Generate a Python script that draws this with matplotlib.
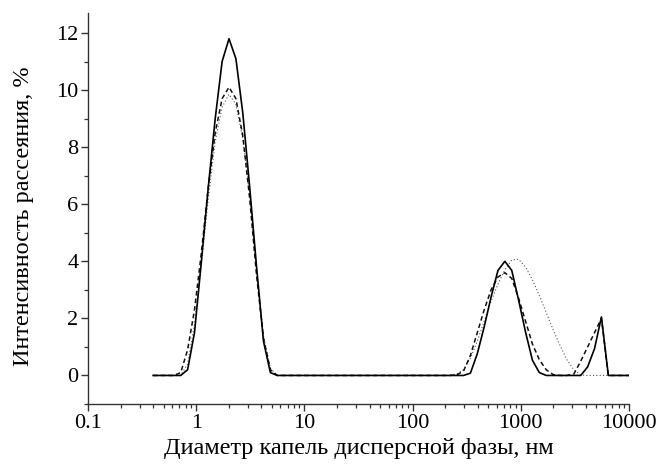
import matplotlib
matplotlib.use("Agg")
import matplotlib.pyplot as plt
import matplotlib.ticker as mticker

plt.rcParams["font.family"] = ["Liberation Serif", "DejaVu Serif"]

# Diameter bins, nm
diam = [0.4, 0.4632, 0.5365, 0.6213, 0.7195, 0.8332, 0.9649, 1.117, 1.294, 1.499,
        1.736, 2.010, 2.328, 2.696, 3.122, 3.615, 4.187, 4.849, 5.615, 6.503,
        7.531, 8.721, 10.10, 11.70, 13.54, 15.69, 18.17, 21.04, 24.36, 28.21,
        32.67, 37.84, 43.82, 50.75, 58.77, 68.06, 78.82, 91.28, 105.7, 122.4,
        141.8, 164.2, 190.1, 220.2, 255.0, 295.3, 342.0, 396.1, 458.7, 531.2,
        615.1, 712.4, 825.0, 955.4, 1106, 1281, 1484, 1718, 1990, 2305,
        2669, 3091, 3580, 4145, 4801, 5560, 6439, 7456, 8635, 10000]

# Scattering intensity, %
solid = [0, 0, 0, 0, 0, 0.2, 1.5, 4.0, 6.6, 9.0,
         11.0, 11.8, 11.1, 9.2, 6.6, 3.8, 1.2, 0.1, 0, 0,
         0, 0, 0, 0, 0, 0, 0, 0, 0, 0,
         0, 0, 0, 0, 0, 0, 0, 0, 0, 0,
         0, 0, 0, 0, 0, 0, 0.08, 0.76, 1.7, 2.75,
         3.68, 4.0, 3.68, 2.63, 1.52, 0.53, 0.1, 0, 0, 0,
         0, 0, 0, 0.3, 0.94, 2.05, 0, 0, 0, 0]

dashed = [0, 0, 0, 0, 0.1, 0.9, 2.3, 4.3, 6.6, 8.5,
          9.7, 10.1, 9.7, 8.4, 6.2, 3.5, 1.3, 0.2, 0, 0,
          0, 0, 0, 0, 0, 0, 0, 0, 0, 0,
          0, 0, 0, 0, 0, 0, 0, 0, 0, 0,
          0, 0, 0, 0, 0.02, 0.15, 0.7, 1.5, 2.3, 3.0,
          3.45, 3.6, 3.4, 2.7, 1.9, 1.1, 0.55, 0.2, 0.03, 0,
          0, 0.05, 0.5, 1.0, 1.5, 2.0, 0, 0, 0, 0]

dotted = [0, 0, 0, 0, 0, 0.4, 1.8, 3.9, 6.2, 8.2,
          9.4, 9.85, 9.5, 8.3, 6.3, 3.7, 1.4, 0.25, 0, 0,
          0, 0, 0, 0, 0, 0, 0, 0, 0, 0,
          0, 0, 0, 0, 0, 0, 0, 0, 0, 0,
          0, 0, 0, 0, 0.05, 0.2, 0.6, 1.2, 1.9, 2.6,
          3.2, 3.7, 4.05, 4.07, 3.8, 3.35, 2.8, 2.2, 1.6, 1.05,
          0.55, 0.2, 0.02, 0, 0, 0, 0, 0, 0, 0]

xticks = [0.1, 1, 10, 100, 1000, 10000]
xticklabels = ["0.1", "1", "10", "100", "1000", "10000"]
yticks = [0, 2, 4, 6, 8, 10, 12]

fig = plt.figure(figsize=(6.59, 4.65), dpi=100)
ax = fig.add_axes([0.1335, 0.1312, 0.821, 0.8408])

ax.plot(diam, dotted, color="#555555", lw=0.8, ls=(0, (1, 2)))
ax.plot(diam, dashed, color="#111111", lw=1.1, ls=(0, (3, 2)))
ax.plot(diam, solid, color="black", lw=1.2)

ax.set_xscale("log")
ax.set_xlim(0.1, 10000)
ax.set_ylim(-1, 12.7)

ax.set_xticks(xticks)
ax.set_xticklabels(xticklabels)
ax.xaxis.set_minor_locator(mticker.LogLocator(base=10, subs=range(2, 10), numticks=20))
ax.xaxis.set_minor_formatter(mticker.NullFormatter())
ax.set_yticks(yticks)
ax.yaxis.set_minor_locator(mticker.MultipleLocator(1))

for s in ["top", "right"]:
    ax.spines[s].set_visible(False)
for s in ["left", "bottom"]:
    ax.spines[s].set_linewidth(1.0)
    ax.spines[s].set_color("#333333")

ax.tick_params(which="major", direction="out", length=5, width=1.0, labelsize=16,
               color="#333333", pad=2)
ax.tick_params(which="minor", direction="out", length=3, width=0.9, color="#333333")

ax.set_xlabel("Диаметр капель дисперсной фазы, нм", fontsize=17.5, labelpad=4)
ax.set_ylabel("Интенсивность рассеяния, %", fontsize=17.5)
ax.yaxis.set_label_coords(-0.1, 0.48)

plt.savefig("out.png", dpi=100)
